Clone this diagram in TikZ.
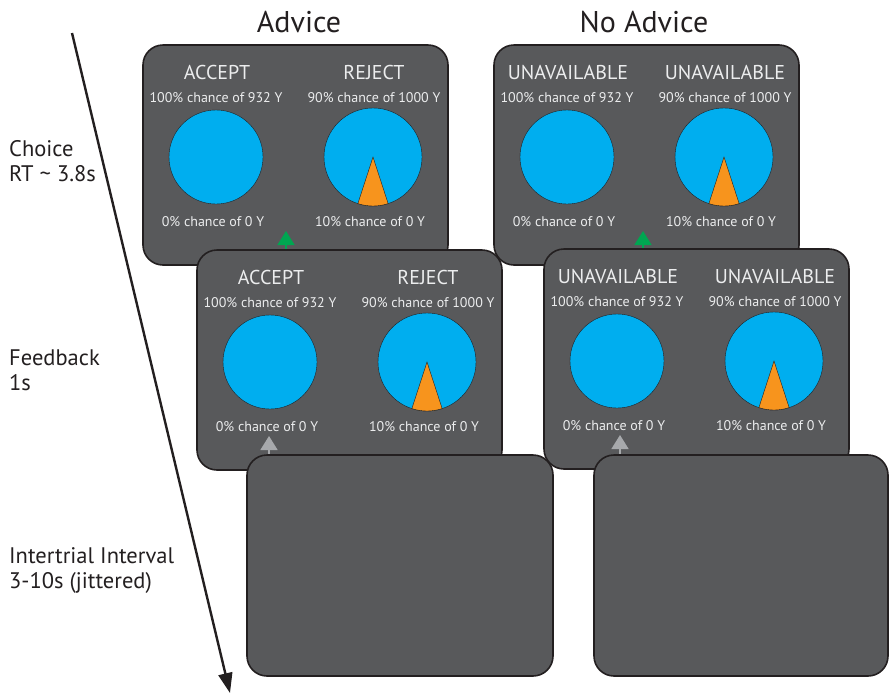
\documentclass[tikz,border=0pt]{standalone}
\usepackage{fontspec}
\setmainfont{PT Sans}
\usetikzlibrary{arrows.meta}
\definecolor{panelgray}{RGB}{88,89,91}
\definecolor{pieblue}{RGB}{0,174,239}
\definecolor{pieorange}{RGB}{247,148,29}
\definecolor{advgreen}{RGB}{0,166,81}
\definecolor{fbgray}{RGB}{167,169,172}
\definecolor{paneltext}{RGB}{236,237,238}
\definecolor{inkblack}{RGB}{35,31,32}
\tikzset{
  panel/.style={fill=panelgray,draw=inkblack,line width=1.6pt,rounded corners=20pt},
  optlabel/.style={text=paneltext,font=\fontsize{20}{22}\selectfont,inner sep=0pt},
  problabel/.style={text=paneltext,font=\fontsize{14}{16}\selectfont,inner sep=0pt},
  pie/.style={fill=pieblue,draw=inkblack,line width=0.4pt},
  slice/.style={fill=pieorange,draw=inkblack,line width=0.4pt},
  pointer/.style={-{Triangle[width=17pt,length=14pt]},line width=1.6pt},
  phase/.style={text=inkblack,font=\fontsize{22.5}{25}\selectfont,align=left,anchor=west,inner sep=0pt},
  column/.style={text=inkblack,font=\fontsize{30}{32}\selectfont,inner sep=0pt}
}
% #1 name, #2/#3 top left corner, #4/#5 option labels, #6 pointer x, #7 pointer colour
\newcommand{\trialscreen}[7]{%
\begin{scope}[shift={(#2,#3)}]
\draw[panel] (0,0) rectangle (305,220);
\node[optlabel] (#1-opta) at (74,27) {#4};
\node[optlabel] (#1-optb) at (231,27) {#5};
\node[problabel] (#1-wina) at (73,53) {100\% chance of 932 Y};
\node[problabel] (#1-winb) at (231,53) {90\% chance of 1000 Y};
\filldraw[pie] (73,112) circle (47);
\filldraw[pie] (230,112) circle (49);
\filldraw[slice] (230,112) -- ++(72:49) arc[start angle=72,end angle=108,radius=49] -- cycle;
\node[problabel] (#1-lossa) at (70,177) {0\% chance of 0 Y};
\node[problabel] (#1-lossb) at (227,177) {10\% chance of 0 Y};
\coordinate (#1-ptip) at (#6,186);
\coordinate (#1-pbase) at (#6,215);
\draw[pointer,#7] (#1-pbase) -- (#1-ptip);
\end{scope}}

\begin{document}
\begin{tikzpicture}[x=1pt,y=-1pt]
\useasboundingbox (0,0) rectangle (890,697);
% column headings
\node[column] (advice) at (299,22) {Advice};
\node[column] (noadvice) at (644,22) {No Advice};
% time axis
\coordinate (tstart) at (72,33);
\coordinate (tend) at (230,693);
\draw[-{Triangle[width=14pt,length=20pt]},line width=2.4pt,inkblack] (tstart) -- (tend);
\node[phase] (choice) at (9,161) {Choice\\RT \textasciitilde{} 3.8s};
\node[phase] (feedback) at (9,370) {Feedback\\1s};
\node[phase] (iti) at (9,570) {Intertrial Interval\\3-10s (jittered)};
% screens
\trialscreen{choiceadv}{143}{45}{ACCEPT}{REJECT}{143}{advgreen}
\trialscreen{choicenoadv}{494}{45}{UNAVAILABLE}{UNAVAILABLE}{149}{advgreen}
\trialscreen{fbadv}{197}{250}{ACCEPT}{REJECT}{72}{fbgray}
\trialscreen{fbnoadv}{544}{249}{UNAVAILABLE}{UNAVAILABLE}{76}{fbgray}
\draw[panel] (247,455) rectangle (553,676);
\draw[panel] (594,455) rectangle (888,676);
\end{tikzpicture}
\end{document}
